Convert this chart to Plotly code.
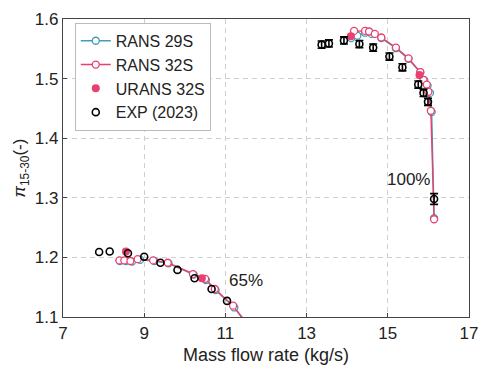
import plotly.graph_objects as go

# ---------------- data ----------------
# 100% speed line
rans32_100_x = [14.17, 14.44, 14.54, 14.68, 14.84, 15.20, 15.51, 15.80, 15.88, 15.96, 16.00, 16.06, 16.14]
rans32_100_y = [1.580, 1.580, 1.579, 1.575, 1.569, 1.552, 1.534, 1.511, 1.498, 1.490, 1.478, 1.446, 1.264]
rans29_100_x = [14.10, 14.25, 14.44, 14.60, 14.84, 15.20, 15.51, 15.80, 15.90, 15.98, 16.04, 16.08, 16.14]
rans29_100_y = [1.568, 1.572, 1.577, 1.575, 1.568, 1.551, 1.533, 1.510, 1.497, 1.488, 1.476, 1.444, 1.266]
urans32_100_x = [14.09, 15.78]
urans32_100_y = [1.571, 1.506]
exp_100_x = [13.37, 13.55, 13.92, 14.30, 14.64, 15.04, 15.36, 15.75, 15.88, 15.99, 16.14]
exp_100_y = [1.557, 1.559, 1.564, 1.558, 1.552, 1.537, 1.519, 1.490, 1.476, 1.461, 1.298]
exp_100_err = [0.006, 0.006, 0.006, 0.006, 0.006, 0.006, 0.006, 0.006, 0.006, 0.006, 0.009]

# 65% speed line
rans32_65_x = [8.39, 8.51, 8.66, 8.84, 9.22, 9.58, 10.20, 10.50, 10.74, 11.19, 11.50]
rans32_65_y = [1.195, 1.195, 1.194, 1.197, 1.195, 1.191, 1.172, 1.164, 1.147, 1.119, 1.090]
rans29_65_x = [8.40, 8.55, 8.70, 8.90, 9.25, 9.60, 10.22, 10.52, 10.76, 11.22, 11.55]
rans29_65_y = [1.194, 1.194, 1.193, 1.196, 1.194, 1.190, 1.171, 1.162, 1.145, 1.116, 1.088]
urans32_65_x = [8.55, 10.42]
urans32_65_y = [1.210, 1.165]
exp_65_x = [7.89, 8.15, 8.60, 9.00, 9.40, 9.82, 10.24, 10.66, 11.04]
exp_65_y = [1.209, 1.210, 1.207, 1.201, 1.191, 1.179, 1.165, 1.147, 1.127]

x_ticks = [7, 9, 11, 13, 15, 17]
y_ticks = [1.1, 1.2, 1.3, 1.4, 1.5, 1.6]
speed_labels = [("100%", 15.5, 1.330), ("65%", 11.5, 1.161)]

TEAL = "#3f9fb8"
PINK = "#e8406f"
FONT = "Liberation Sans, Arial, sans-serif"

fig = go.Figure()

# RANS 29S
for i, (xs, ys) in enumerate([(rans29_100_x, rans29_100_y), (rans29_65_x, rans29_65_y)]):
    fig.add_trace(go.Scatter(
        x=xs, y=ys, mode="lines+markers", name="RANS 29S",
        legendgroup="r29", showlegend=(i == 0),
        line=dict(color=TEAL, width=1.4),
        marker=dict(symbol="circle", size=7, color="white", line=dict(width=1.3, color=TEAL)),
    ))

# RANS 32S
for i, (xs, ys) in enumerate([(rans32_100_x, rans32_100_y), (rans32_65_x, rans32_65_y)]):
    fig.add_trace(go.Scatter(
        x=xs, y=ys, mode="lines+markers", name="RANS 32S",
        legendgroup="r32", showlegend=(i == 0),
        line=dict(color=PINK, width=1.4),
        marker=dict(symbol="circle", size=7, color="white", line=dict(width=1.3, color=PINK)),
    ))

# URANS 32S
fig.add_trace(go.Scatter(
    x=urans32_100_x + urans32_65_x, y=urans32_100_y + urans32_65_y,
    mode="markers", name="URANS 32S",
    marker=dict(symbol="circle", size=8, color=PINK, line=dict(width=0)),
))

# EXP
fig.add_trace(go.Scatter(
    x=exp_100_x, y=exp_100_y, mode="markers", name="EXP (2023)", legendgroup="exp",
    marker=dict(symbol="circle-open", size=7, color="black", line=dict(width=1.6)),
    error_y=dict(type="data", array=exp_100_err, color="black", thickness=1.6, width=4),
))
fig.add_trace(go.Scatter(
    x=exp_65_x, y=exp_65_y, mode="markers", name="EXP (2023)", legendgroup="exp",
    showlegend=False,
    marker=dict(symbol="circle-open", size=7, color="black", line=dict(width=1.6)),
))

for txt, ax_, ay_ in speed_labels:
    fig.add_annotation(x=ax_, y=ay_, text=txt, showarrow=False,
                       font=dict(size=17, color="#222", family=FONT))

axis_common = dict(
    showline=True, linecolor="#444", linewidth=1.2, mirror=True,
    ticks="inside", ticklen=4, tickcolor="#444",
    showgrid=True, gridcolor="#cfcfcf", griddash="5px,4px", gridwidth=1,
    zeroline=False, tickfont=dict(size=17, color="#222", family=FONT),
)

fig.update_layout(
    width=488, height=378,
    margin=dict(l=63, r=10, t=13, b=61),
    paper_bgcolor="white", plot_bgcolor="white",
    font=dict(family=FONT, color="#222"),
    xaxis=dict(range=[7, 17], tickvals=x_ticks,
               title=dict(text="Mass flow rate (kg/s)", font=dict(size=18), standoff=6),
               **axis_common),
    yaxis=dict(range=[1.1, 1.6], tickvals=y_ticks, tickformat=".1f",
               title=dict(text="<i>π</i><sub>15-30</sub>(-)", font=dict(size=17), standoff=4),
               **axis_common),
    legend=dict(x=0.029, y=0.987, xanchor="left", yanchor="top",
                bgcolor="white", bordercolor="#bbbbbb", borderwidth=1,
                font=dict(size=16, color="#222", family=FONT),
                tracegroupgap=0),
)

fig.write_html("out.html")
